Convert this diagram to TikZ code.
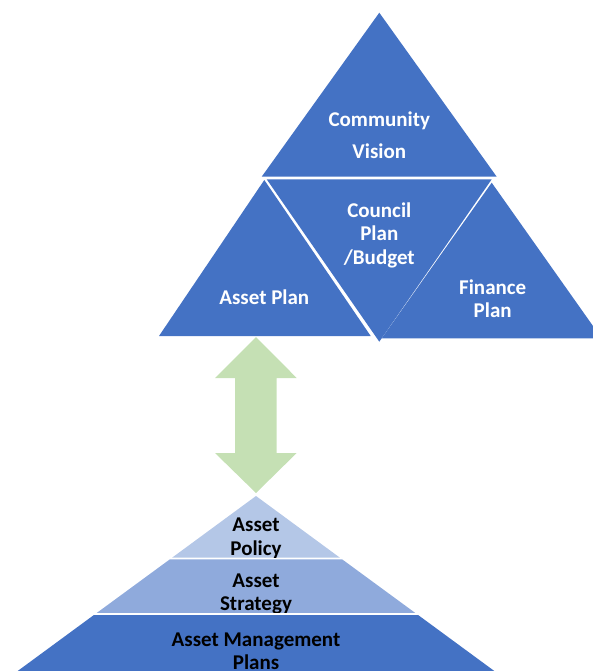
\documentclass[tikz,border=0pt]{standalone}
\usepackage{fontspec}
\setmainfont{Carlito}
\definecolor{ablue}{HTML}{4472C4}
\definecolor{alight}{HTML}{B4C7E7}
\definecolor{amid}{HTML}{8FAADC}
\definecolor{agreen}{HTML}{C5E0B4}
\tikzset{
  wtxt/.style={text=white, font=\fontsize{21}{24}\selectfont\bfseries, inner sep=0pt, anchor=base},
  btxt/.style={text=black, font=\fontsize{21}{24}\selectfont\bfseries, inner sep=0pt, anchor=base},
  gap/.style={fill=white}
}
\begin{document}
\begin{tikzpicture}[x=1pt,y=-1pt]
\useasboundingbox (0,0) rectangle (593,671);
\clip (0,0) rectangle (593,671);
% top group of triangles
\fill[ablue] (379.3,12.7) -- (261.7,176.7) -- (496.7,176.7) -- cycle;
\fill[ablue] (264.3,180) -- (159,336) -- (370.7,336) -- cycle;
\fill[ablue] (266.7,179.3) -- (491.7,179.3) -- (379.3,341.7) -- cycle;
\fill[ablue] (491.7,182.7) -- (381.7,338.3) -- (601.7,338.3) -- cycle;
\node[wtxt] (cv1) at (379.3,126.7) {Community};
\node[wtxt] (cv2) at (379.3,158.3) {Vision};
\node[wtxt] (cp1) at (379.3,217.3) {Council};
\node[wtxt] (cp2) at (379.3,240.7) {Plan};
\node[wtxt] (cp3) at (379.3,264.3) {/Budget};
\node[wtxt] (ap) at (264.3,304.3) {Asset Plan};
\node[wtxt] (fp1) at (492.7,294.7) {Finance};
\node[wtxt] (fp2) at (492.7,317.7) {Plan};
% double arrow
\fill[agreen] (256,337) -- (296.7,378) -- (276.7,378) -- (276.7,453) -- (296.7,453)
  -- (256,493) -- (215,453) -- (235,453) -- (235,378) -- (215,378) -- cycle;
% pyramid
\fill[alight] (256,496) -- (172.2,557.6) -- (339.8,557.6) -- cycle;
\node[btxt] (l1a) at (256,531.7) {Asset};
\node[btxt] (l1b) at (256,555) {Policy};
\fill[gap] (150,557.6) rectangle (360,559.3);
\fill[amid] (169.9,559.3) -- (342.1,559.3) -- (415.6,613.2) -- (96.4,613.2) -- cycle;
\node[btxt] (l2a) at (256,587.3) {Asset};
\node[btxt] (l2b) at (256,610) {Strategy};
\fill[gap] (80,613.2) rectangle (430,615);
\fill[ablue] (93.9,615) -- (418.1,615) -- (533.8,700) -- (-21.8,700) -- cycle;
\node[btxt] (l3a) at (256,646.7) {Asset Management};
\node[btxt] (l3b) at (256,669) {Plans};
\end{tikzpicture}
\end{document}
